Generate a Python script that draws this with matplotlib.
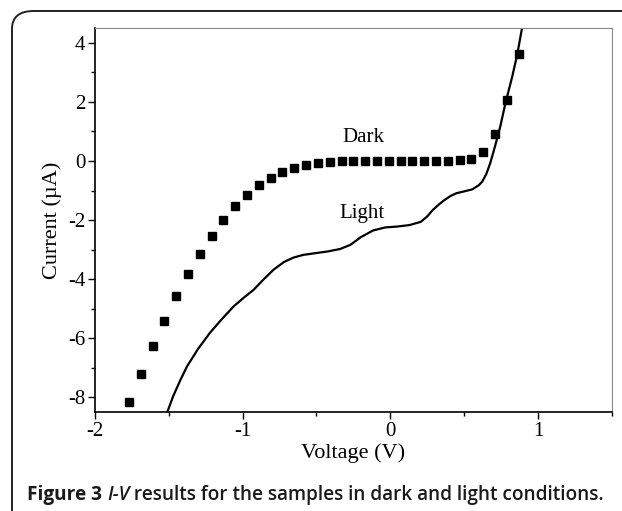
import matplotlib
matplotlib.use("Agg")
import matplotlib.pyplot as plt
from matplotlib.patches import FancyBboxPatch

# Dark I-V (square markers)
dark_v = [-1.77, -1.69, -1.61, -1.53, -1.45, -1.37, -1.29, -1.21, -1.13, -1.05,
          -0.97, -0.89, -0.81, -0.73, -0.65, -0.57, -0.49, -0.41, -0.33, -0.25,
          -0.17, -0.09, -0.01, 0.07, 0.15, 0.23, 0.31, 0.39, 0.47, 0.55,
          0.63, 0.71, 0.79, 0.87]
dark_i = [-8.17, -7.2, -6.27, -5.41, -4.58, -3.84, -3.16, -2.54, -2.0, -1.54,
          -1.14, -0.82, -0.56, -0.37, -0.23, -0.12, -0.07, -0.03, -0.01, 0.0,
          0.0, 0.0, 0.0, 0.0, 0.0, 0.0, 0.01, 0.01, 0.02, 0.06,
          0.29, 0.9, 2.06, 3.62]

# Light I-V (solid line)
light_v = [-1.51, -1.47, -1.42, -1.376, -1.30, -1.22, -1.14, -1.06, -0.99, -0.925,
           -0.86, -0.79, -0.72, -0.655, -0.59, -0.52, -0.42, -0.34, -0.27, -0.20,
           -0.115, -0.034, 0.046, 0.13, 0.207, 0.25, 0.288, 0.33, 0.368, 0.41,
           0.449, 0.50, 0.556, 0.60, 0.623, 0.65, 0.677, 0.71, 0.745, 0.78,
           0.826, 0.86, 0.892, 0.90]
light_i = [-8.5, -7.96, -7.4, -6.95, -6.35, -5.81, -5.35, -4.92, -4.62, -4.36,
           -4.02, -3.68, -3.42, -3.27, -3.18, -3.13, -3.06, -2.98, -2.84, -2.58,
           -2.35, -2.25, -2.22, -2.17, -2.06, -1.88, -1.66, -1.47, -1.32, -1.18,
           -1.09, -1.03, -0.96, -0.82, -0.70, -0.45, -0.08, 0.5, 1.16, 1.95,
           2.85, 3.6, 4.48, 4.7]

x_ticks = [-2, -1, 0, 1]
y_ticks = [-8, -6, -4, -2, 0, 2, 4]

fig = plt.figure(figsize=(6.22, 5.11), dpi=100)
ax = fig.add_axes([0.1527, 0.1937, 0.8307, 0.7513])

serif = "Liberation Serif"
ax.plot(light_v, light_i, color="black", lw=1.6, solid_capstyle="butt")
ax.plot(dark_v, dark_i, "s", color="black", ms=5.2, mec="black")

ax.set_xlim(-2, 1.5)
ax.set_ylim(-8.5, 4.5)
ax.set_xticks(x_ticks)
ax.set_yticks(y_ticks)
ax.set_xticks([-1.5, -0.5, 0.5, 1.5], minor=True)
ax.set_yticks([-7, -5, -3, -1, 1, 3], minor=True)
ax.set_xticklabels([str(t) for t in x_ticks], family=serif, fontsize=15)
ax.set_yticklabels([str(t) for t in y_ticks], family=serif, fontsize=15)
ax.tick_params(which="major", direction="out", length=5, width=1, pad=2)
ax.tick_params(which="minor", direction="out", length=3, width=1)
for s in ["top", "right"]:
    ax.spines[s].set_color("#888888")
for s in ["left", "bottom"]:
    ax.spines[s].set_linewidth(1.2)

ax.set_xlabel("Voltage (V)", family=serif, fontsize=16, labelpad=2)
ax.set_ylabel("Current (\u00b5A)", family=serif, fontsize=16, labelpad=4)

ax.text(-0.18, 0.78, "Dark", family=serif, fontsize=15, ha="center", va="center")
ax.text(-0.19, -1.79, "Light", family=serif, fontsize=15, ha="center", va="center")

# Rounded frame
frame = FancyBboxPatch((12 / 622, -0.2), 1.2, (1 - 11 / 511) + 0.2,
                       boxstyle="round,pad=0,rounding_size=0.035",
                       transform=fig.transFigure, fill=False,
                       edgecolor="#222222", lw=1.4, clip_on=False)
fig.patches.append(frame)

# Caption
cap_y = 1 - 495 / 511
fs = 13.7
col = "#1a1a1a"
t1 = fig.text(27 / 622, cap_y, "Figure 3 ", family="Open Sans", fontweight="bold",
              fontsize=fs, va="center", ha="left", color=col)
fig.canvas.draw()
r = fig.canvas.get_renderer()
bb = t1.get_window_extent(r)
x2 = bb.x1 / fig.bbox.width
t2 = fig.text(x2, cap_y, "I-V", family="Open Sans", fontstyle="italic",
              fontweight="semibold", fontsize=fs, va="center", ha="left", color=col)
bb2 = t2.get_window_extent(r)
x3 = bb2.x1 / fig.bbox.width
fig.text(x3, cap_y, " results for the samples in dark and light conditions.",
         family="Open Sans", fontweight="semibold", fontsize=fs, va="center",
         ha="left", color=col)

fig.savefig("out.png", dpi=100)
